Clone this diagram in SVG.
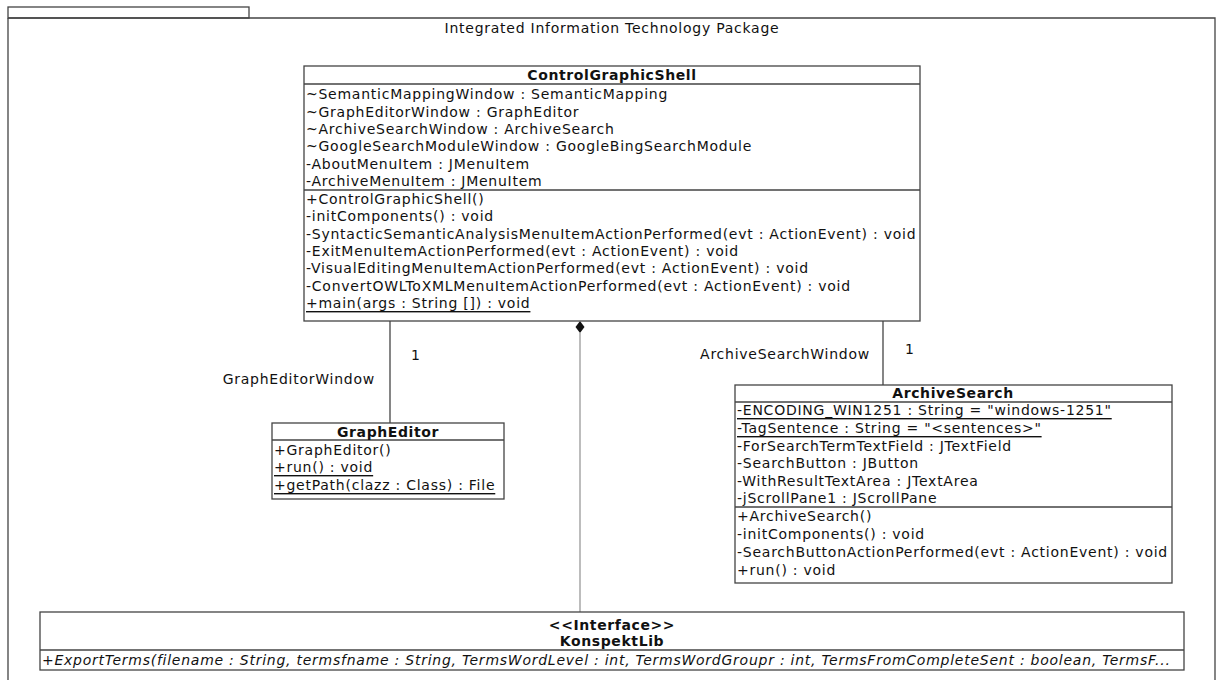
<svg xmlns="http://www.w3.org/2000/svg" width="1218" height="680" viewBox="0 0 1218 680">
<style>
text{font-family:"DejaVu Sans","Liberation Sans",sans-serif;font-size:14px;letter-spacing:0.75px;fill:#111;dominant-baseline:central}
.t{font-weight:bold;text-anchor:middle;letter-spacing:0.6px}
.u{text-decoration:underline}
.i{font-style:italic}
.box{fill:#fff;stroke:#444;stroke-width:1.3}
.ln{stroke:#444;stroke-width:1.3;fill:none}
</style>
<rect width="1218" height="680" fill="#fff"/>
<g id="frame">
<rect x="8" y="7" width="241" height="11" class="box"/>
<path d="M8 18 V690 M8 18 H1215 V690" class="ln"/>
<text x="612" y="28" text-anchor="middle">Integrated Information Technology Package</text>
</g>
<g id="connectors">
<path d="M390 321 V423" class="ln"/>
<text x="411" y="355">1</text>
<text x="375" y="379" text-anchor="end">GraphEditorWindow</text>
<path d="M883 321 V385" class="ln"/>
<text x="905" y="349">1</text>
<text x="870" y="354" text-anchor="end">ArchiveSearchWindow</text>
<path d="M580 333 V612" stroke="#999" stroke-width="1.3" fill="none"/>
<path d="M580 321 L584.5 327 L580 333 L575.5 327 Z" fill="#111"/>
</g>
<g id="ControlGraphicShell">
<rect x="304" y="66" width="616" height="255" class="box"/>
<path d="M304 84 H920 M304 190 H920" class="ln"/>
<text x="612" y="75" class="t">ControlGraphicShell</text>
<text x="306" y="94">~SemanticMappingWindow : SemanticMapping</text>
<text x="306" y="112">~GraphEditorWindow : GraphEditor</text>
<text x="306" y="129">~ArchiveSearchWindow : ArchiveSearch</text>
<text x="306" y="146">~GoogleSearchModuleWindow : GoogleBingSearchModule</text>
<text x="306" y="164">-AboutMenuItem : JMenuItem</text>
<text x="306" y="181">-ArchiveMenuItem : JMenuItem</text>
<text x="306" y="199">+ControlGraphicShell()</text>
<text x="306" y="216">-initComponents() : void</text>
<text x="306" y="234">-SyntacticSemanticAnalysisMenuItemActionPerformed(evt : ActionEvent) : void</text>
<text x="306" y="251">-ExitMenuItemActionPerformed(evt : ActionEvent) : void</text>
<text x="306" y="268">-VisualEditingMenuItemActionPerformed(evt : ActionEvent) : void</text>
<text x="306" y="286">-ConvertOWLToXMLMenuItemActionPerformed(evt : ActionEvent) : void</text>
<text x="306" y="303" class="u">+main(args : String []) : void</text>
</g>
<g id="GraphEditor">
<rect x="272" y="423" width="232" height="76" class="box"/>
<path d="M272 440 H504" class="ln"/>
<text x="388" y="432" class="t">GraphEditor</text>
<text x="274" y="450">+GraphEditor()</text>
<text x="274" y="467" class="u">+run() : void</text>
<text x="274" y="485" class="u">+getPath(clazz : Class) : File</text>
</g>
<g id="ArchiveSearch">
<rect x="735" y="385" width="437" height="198" class="box"/>
<path d="M735 402 H1172 M735 507 H1172" class="ln"/>
<text x="953" y="393" class="t">ArchiveSearch</text>
<text x="737" y="410" class="u">-ENCODING_WIN1251 : String = "windows-1251"</text>
<text x="737" y="428" class="u">-TagSentence : String = "&lt;sentences&gt;"</text>
<text x="737" y="446">-ForSearchTermTextField : JTextField</text>
<text x="737" y="463">-SearchButton : JButton</text>
<text x="737" y="481">-WithResultTextArea : JTextArea</text>
<text x="737" y="498">-jScrollPane1 : JScrollPane</text>
<text x="737" y="516">+ArchiveSearch()</text>
<text x="737" y="534">-initComponents() : void</text>
<text x="737" y="552">-SearchButtonActionPerformed(evt : ActionEvent) : void</text>
<text x="737" y="570">+run() : void</text>
</g>
<g id="KonspektLib">
<rect x="40" y="612" width="1144" height="58" class="box"/>
<path d="M40 650 H1184" class="ln"/>
<text x="612" y="625" class="t">&lt;&lt;Interface&gt;&gt;</text>
<text x="612" y="641" class="t">KonspektLib</text>
<text x="42" y="660" class="i">+ExportTerms(filename : String, termsfname : String, TermsWordLevel : int, TermsWordGroupr : int, TermsFromCompleteSent : boolean, TermsF...</text>
</g>
</svg>
